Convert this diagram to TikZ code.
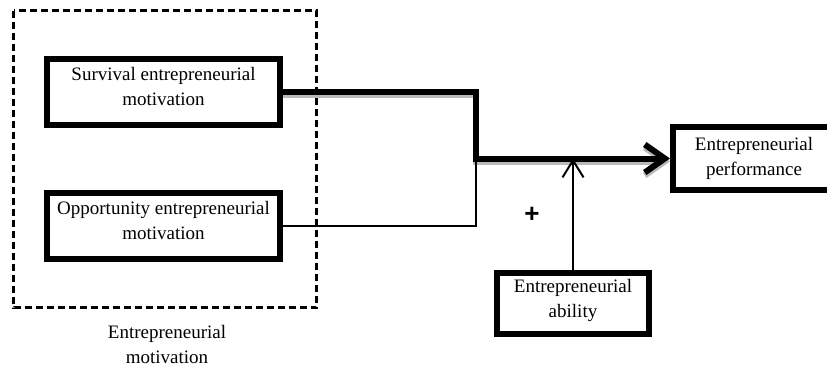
\documentclass[tikz,border=0pt]{standalone}
\usepackage{fontspec}
\setmainfont{Liberation Serif}
\newfontfamily\plusfont{Liberation Sans}
\usetikzlibrary{arrows.meta}

\begin{document}
\begin{tikzpicture}[x=1pt,y=-1pt,
  factor/.style={draw,line width=6pt,minimum width=233pt,minimum height=66pt,
    inner sep=0pt,align=center,font=\fontsize{19}{25}\selectfont},
  groupbox/.style={draw,line width=3pt,dash pattern=on 7pt off 4pt},
  mainpath/.style={line width=6pt,-{Straight Barb[length=20pt,width=28pt]}},
  thinpath/.style={line width=2pt}]
\useasboundingbox (0,0) rectangle (827,367);

\draw[groupbox] (13.5,10.5) rectangle (316.5,307.5);
\node[factor,text depth=12pt] (surv) at (163.5,92) {Survival entrepreneurial\\motivation};
\node[factor,text depth=12pt] (opp) at (163.5,226) {Opportunity entrepreneurial\\motivation};
\node[factor,minimum width=162pt,minimum height=63pt] (perf) at (754,158.5) {Entrepreneurial\\performance};
\node[factor,minimum width=152pt,minimum height=61pt,text depth=10pt] (abil) at (573,303.5) {Entrepreneurial\\ability};
\node[align=center,font=\fontsize{19}{25}\selectfont] (grouplabel) at (167,344) {Entrepreneurial\\motivation};
\node[font=\plusfont\bfseries\fontsize{26}{26}\selectfont] (plus) at (532,215) {+};

\coordinate (join) at (476,158.5);
\begin{scope}[transform canvas={yshift=-3pt}]
\draw[mainpath,gray!55] (surv.east) -| (join) -- (perf.west);
\end{scope}
\draw[mainpath] (surv.east) -| (join) -- (perf.west);
\draw[thinpath] (opp.east) -| (join);
\draw[thinpath,-{Straight Barb[length=17pt,width=21pt]}] (abil.north) -- (abil.north |- join);
\end{tikzpicture}
\end{document}
